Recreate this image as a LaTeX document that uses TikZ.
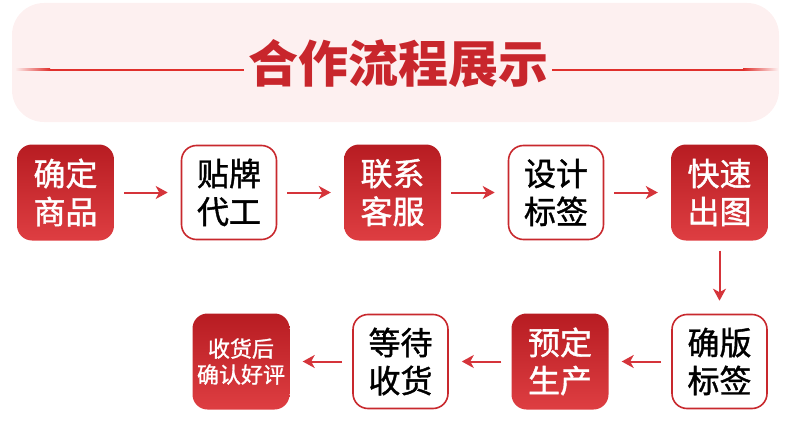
\documentclass[tikz,border=0pt]{standalone}
\usepackage{fontspec}
\usetikzlibrary{arrows.meta, positioning}
\newfontfamily\cjk[RawFeature={embolden=1.2}]{Noto Sans CJK SC}
\newfontfamily\cjktitle{Noto Sans CJK SC}
\definecolor{flowred}{HTML}{C8282D}
\definecolor{darkred}{HTML}{B71C22}
\definecolor{lightred}{HTML}{DE3E42}
\definecolor{titlered}{HTML}{C8262C}
\definecolor{linered}{HTML}{E0302C}
\definecolor{bgpink}{HTML}{FDF0F0}
\definecolor{arrowred}{HTML}{D5343A}

\begin{document}
\begin{tikzpicture}[
  x=1pt, y=-1pt,
  node distance   = 73pt and 66.5pt,
  stepfill/.style = {rectangle, rounded corners=15pt, minimum width=97pt,
                     minimum height=96pt, inner sep=0pt, align=center,
                     top color=darkred, bottom color=lightred, text=white,
                     font=\cjk\fontsize{32}{38}\selectfont},
  stepline/.style = {rectangle, rounded corners=15pt, minimum width=95pt,
                     minimum height=94pt, inner sep=0pt, align=center,
                     draw=flowred, line width=1.6pt, fill=white, text=black,
                     font=\cjk\fontsize{32}{38}\selectfont},
  arrow/.style    = {-{Stealth[length=12pt, width=13pt, inset=3.5pt]},
                     line width=2pt, color=arrowred,
                     shorten <=10pt, shorten >=13pt},
]
\useasboundingbox (0,0) rectangle (790,428);

% Header
\fill[bgpink, rounded corners=32pt] (12,3) rectangle (779,122);
\shade[left color=bgpink, right color=linered] (15,69) rectangle (50,71);
\fill[linered] (50,69) rectangle (244,71);
\fill[linered] (552,69) rectangle (743,71);
\shade[left color=linered, right color=bgpink] (743,69) rectangle (778,71);
\node[font=\cjktitle\bfseries\fontsize{50}{50}\selectfont, text=titlered] (title) at (398,64) {合作流程展示};

% Nodes, first row
\node[stepfill] (pick) at (65.5,192.5) {确定\\商品};
\node[stepline, right=of pick]   (oem)    {贴牌\\代工};
\node[stepfill, right=of oem]    (contact){联系\\客服};
\node[stepline, right=of contact](design) {设计\\标签};
\node[stepfill, right=of design] (draft)  {快速\\出图};

% Nodes, second row
\begin{scope}[node distance=73pt and 62.5pt]
\node[stepline, below=of draft]  (proof)  {确版\\标签};
\node[stepfill, left=of proof]   (produce){预定\\生产};
\node[stepline, left=of produce] (wait)   {等待\\收货};
\node[stepfill, left=of wait, font=\cjk\fontsize{22}{26}\selectfont] (review) {收货后\\确认好评};
\end{scope}

% Arrows
\draw[arrow] (pick)    -- (oem);
\draw[arrow] (oem)     -- (contact);
\draw[arrow] (contact) -- (design);
\draw[arrow] (design)  -- (draft);
\draw[arrow] (draft)   -- (proof);
\draw[arrow] (proof)   -- (produce);
\draw[arrow] (produce) -- (wait);
\draw[arrow] (wait)    -- (review);
\end{tikzpicture}
\end{document}
